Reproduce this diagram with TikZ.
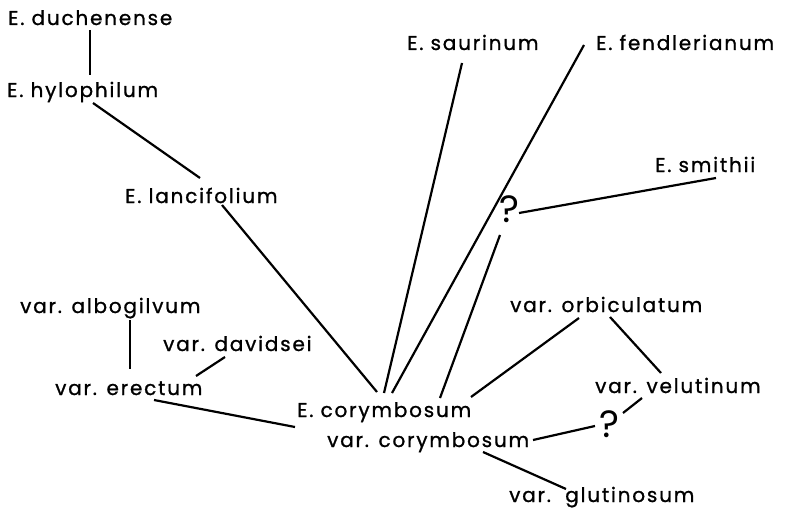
\documentclass[tikz,border=0pt]{standalone}
\usepackage{fontspec}
\setmainfont{Poppins}[LetterSpace=9,FakeBold=1]
\newfontfamily\qfont{Poppins}
\usetikzlibrary{calc}
\begin{document}
\begin{tikzpicture}[x=1pt,y=-1pt,
  lbl/.style={anchor=base west,inner sep=0pt,font=\fontsize{20}{22}\selectfont},
  qm/.style={anchor=base west,inner sep=0pt,font=\qfont\fontsize{38}{40}\selectfont},
  conn/.style={line width=2.2pt}]
\useasboundingbox (0,0) rectangle (787,511);
\node[lbl] (duch) at (8,25) {E. duchenense};
\node[lbl] (hylo) at (7,97) {E. hylophilum};
\node[lbl] (lanc) at (125,203) {E. lancifolium};
\node[lbl] (saur) at (407,50) {E. saurinum};
\node[lbl] (fend) at (596,50) {E. fendlerianum};
\node[lbl] (smit) at (655,172) {E. smithii};
\node[qm] (q1) at (499,222) {?};
\node[lbl] (albo) at (20,313) {var. albogilvum};
\node[lbl] (davi) at (163,351) {var. davidsei};
\node[lbl] (erec) at (55,395) {var. erectum};
\node[lbl] (cory) at (297,417) {E. corymbosum};
\node[lbl] (vcor) at (327,447) {var. corymbosum};
\node[lbl] (orbi) at (510,312) {var. orbiculatum};
\node[lbl] (velu) at (595,393) {var. velutinum};
\node[qm] (q2) at (599,437) {?};
\node[lbl] (glut) at (509,502) {var.\ \ glutinosum};
\draw[conn] ($(duch.base west)+(82,5)$) -- ($(hylo.base west)+(83,-22)$);
\draw[conn] ($(hylo.base west)+(86,6)$) -- ($(lanc.base west)+(75,-25)$);
\draw[conn] ($(lanc.base west)+(97,2)$) -- ($(cory.base west)+(80,-25)$);
\draw[conn] ($(saur.base west)+(55,13)$) -- ($(cory.base west)+(87,-24)$);
\draw[conn] ($(fend.base west)+(-12,-5)$) -- ($(cory.base west)+(95,-24)$);
\draw[conn] ($(q1.base west)+(20,-9)$) -- ($(smit.base west)+(61,6)$);
\draw[conn] ($(q1.base west)+(1,13)$) -- ($(cory.base west)+(143,-19)$);
\draw[conn] ($(albo.base west)+(110,7)$) -- ($(erec.base west)+(75,-26)$);
\draw[conn] ($(davi.base west)+(62,6)$) -- ($(erec.base west)+(141,-19)$);
\draw[conn] ($(erec.base west)+(99,5)$) -- ($(cory.base west)+(-2,10)$);
\draw[conn] ($(orbi.base west)+(69,6)$) -- ($(cory.base west)+(174,-20)$);
\draw[conn] ($(orbi.base west)+(100,5)$) -- ($(velu.base west)+(66,-20)$);
\draw[conn] ($(velu.base west)+(47,5)$) -- ($(q2.base west)+(24,-24)$);
\draw[conn] ($(q2.base west)+(-4,-11)$) -- ($(vcor.base west)+(206,-7)$);
\draw[conn] ($(vcor.base west)+(156,5)$) -- ($(glut.base west)+(57,-13)$);
\end{tikzpicture}
\end{document}
